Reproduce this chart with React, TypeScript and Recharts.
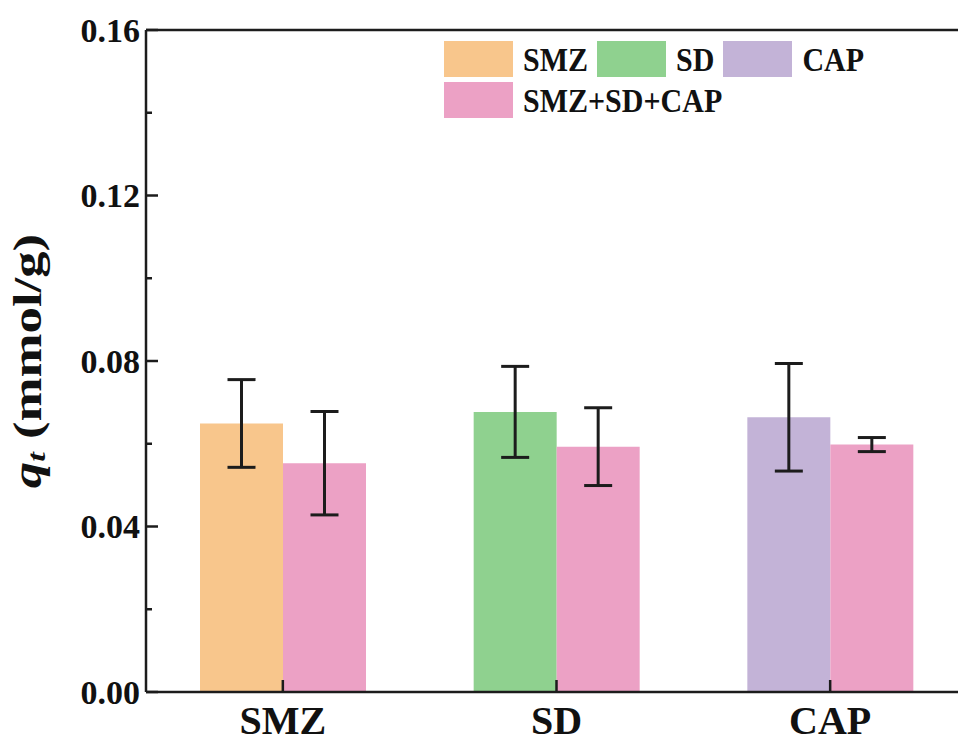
import {
  BarChart, Bar, XAxis, YAxis, Cell, ErrorBar,
  ReferenceLine, Legend, Label,
} from 'recharts'

const categories = ['SMZ', 'SD', 'CAP']
const singleValues = [0.0649, 0.0677, 0.0664]
const singleErrors = [0.0106, 0.011, 0.013]
const mixValues = [0.0553, 0.0593, 0.0598]
const mixErrors = [0.0125, 0.0094, 0.0017]
const singleColors = ['#F8C68C', '#8FD18F', '#C3B3D7']
const mixColor = '#ECA1C5'
const yTicks = [0, 0.02, 0.04, 0.06, 0.08, 0.1, 0.12, 0.14, 0.16]
const yMajorTicks = [0, 0.04, 0.08, 0.12, 0.16]
const legendRows = [
  [{ name: 'SMZ', color: '#F8C68C' }, { name: 'SD', color: '#8FD18F' }, { name: 'CAP', color: '#C3B3D7' }],
  [{ name: 'SMZ+SD+CAP', color: '#ECA1C5' }],
]

const data = categories.map((name, i) => ({
  name,
  single: singleValues[i],
  singleErr: singleErrors[i],
  mix: mixValues[i],
  mixErr: mixErrors[i],
}))

const FONT = '"Liberation Serif", "Times New Roman", serif'
const INK = '#1c1c1c'

function YTick(props: any) {
  const { x, y, payload } = props
  const major = yMajorTicks.includes(payload.value)
  return (
    <g>
      <line x1={x} x2={x + (major ? 12 : 6)} y1={y} y2={y} stroke={INK} strokeWidth={2.5} />
      {major && (
        <text x={x - 6} y={y} textAnchor="end" dominantBaseline="central"
          fontFamily={FONT} fontWeight="bold" fontSize={34} fill="#111">
          {payload.value.toFixed(2)}
        </text>
      )}
    </g>
  )
}

function XTick(props: any) {
  const { x, y, payload } = props
  return (
    <g>
      <line x1={x} x2={x} y1={y} y2={y - 12} stroke={INK} strokeWidth={2.5} />
      <text x={x} y={y + 42} textAnchor="middle"
        fontFamily={FONT} fontWeight="bold" fontSize={40} fill="#111">
        {payload.value}
      </text>
    </g>
  )
}

function YLabel(props: any) {
  const vb = props.viewBox || { x: 0, y: 30, width: 146, height: 662 }
  const cx = vb.x + 27
  const cy = vb.y + vb.height / 2
  return (
    <text transform={`translate(${cx},${cy}) rotate(-90) scale(1.32,1)`}
      textAnchor="middle" dominantBaseline="central"
      fontFamily={FONT} fontWeight="bold" fontSize={40} fill="#111">
      <tspan fontStyle="italic">q</tspan>
      <tspan fontStyle="italic" fontSize={26} dy={9}>t</tspan>
      <tspan dy={-9}> (mmol/g)</tspan>
    </text>
  )
}

function LegendBox() {
  return (
    <div style={{ fontFamily: FONT, fontWeight: 'bold', fontSize: 30, color: '#111' }}>
      {legendRows.map((row, r) => (
        <div key={r} style={{ display: 'flex', alignItems: 'center', height: 36, marginBottom: 5 }}>
          {row.map(item => (
            <div key={item.name} style={{ display: 'flex', alignItems: 'center', marginRight: 9 }}>
              <span style={{ display: 'inline-block', width: 69, height: 36, background: item.color, marginRight: 10 }} />
              <span style={{ display: 'inline-block', transform: 'scaleY(1.15)', lineHeight: '36px' }}>{item.name}</span>
            </div>
          ))}
        </div>
      ))}
    </div>
  )
}

export default function App() {
  return (
    <div style={{ position: 'absolute', left: 0, top: 0, width: 958, height: 742, overflow: 'hidden', background: '#fff' }}>
      <BarChart width={980} height={742} data={data} barGap={0} barSize={83}
        margin={{ top: 30, right: 13, left: 0, bottom: 0 }}>
        <XAxis dataKey="name" height={50} tick={<XTick />} tickLine={false} tickSize={0} tickMargin={0}
          axisLine={{ stroke: INK, strokeWidth: 2.5 }} interval={0} />
        <YAxis width={146} domain={[0, 0.16]} ticks={yTicks} tick={<YTick />} tickLine={false}
          tickSize={0} tickMargin={0} interval={0} allowDataOverflow
          axisLine={{ stroke: INK, strokeWidth: 2.5 }}>
          <Label content={<YLabel />} position="insideLeft" />
        </YAxis>
        <ReferenceLine y={0.16} stroke={INK} strokeWidth={2.5} />
        <Legend verticalAlign="middle" align="center" layout="horizontal"
          content={<LegendBox />}
          wrapperStyle={{ position: 'absolute', left: 444, top: 41, width: 480 }} />
        <Bar dataKey="single" isAnimationActive={false}>
          {data.map((d, i) => <Cell key={d.name} fill={singleColors[i]} />)}
          <ErrorBar dataKey="singleErr" width={14} strokeWidth={3} stroke={INK} direction="y" />
        </Bar>
        <Bar dataKey="mix" fill={mixColor} isAnimationActive={false}>
          <ErrorBar dataKey="mixErr" width={14} strokeWidth={3} stroke={INK} direction="y" />
        </Bar>
      </BarChart>
    </div>
  )
}
